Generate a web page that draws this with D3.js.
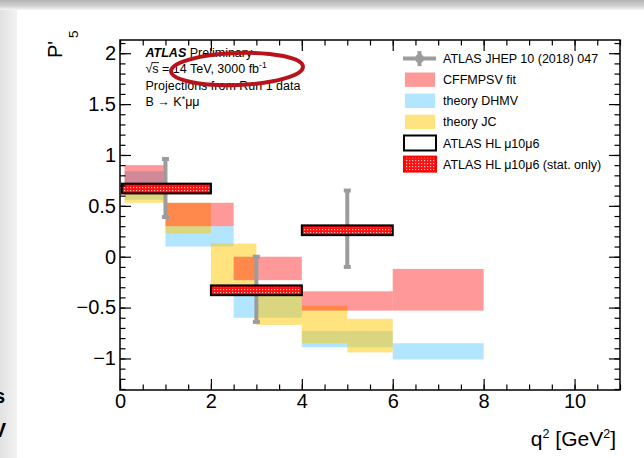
<!DOCTYPE html>
<html>
<head>
<meta charset="utf-8">
<script src="https://cdn.jsdelivr.net/npm/d3@7"></script>
<style>
  body { margin: 0; background: #fff; }
  svg { display: block; font-family: "Liberation Sans", Arial, Helvetica, sans-serif; }
</style>
</head>
<body>
<svg id="chart" width="644" height="458"></svg>
<script>
	//axis ticks
var xTicks = [0, 2, 4, 6, 8, 10];
var yTicks = [-1, -0.5, 0, 0.5, 1, 1.5, 2];

	//CFFMPSV fit: q2 bins and P'5 band
var cffBins = [[0.1, 0.98], [1.0, 2.5], [2.5, 4.0], [4.0, 6.0], [6.0, 8.0]];
var cffLow  = [0.70, 0.30, -0.23, -0.53, -0.53];
var cffHigh = [0.90, 0.53, 0.00, -0.34, -0.12];

	//theory DHMV
var dhmvBins = [[0.1, 0.98], [1.0, 2.5], [2.5, 4.0], [4.0, 6.0], [6.0, 8.0]];
var dhmvLow  = [0.56, 0.10, -0.60, -0.89, -1.01];
var dhmvHigh = [0.84, 0.30, -0.30, -0.73, -0.85];

	//theory JC
var jcBins = [[0.1, 0.98], [1.0, 2.0], [2.0, 3.0], [3.0, 4.0], [4.0, 5.0], [5.0, 6.0]];
var jcLow  = [0.53, 0.23, -0.30, -0.67, -0.85, -0.94];
var jcHigh = [0.66, 0.53, 0.13, -0.32, -0.48, -0.61];

	//ATLAS JHEP 10 (2018) 047 + HL projection (same central values)
var atlasBins  = [[0.04, 2.0], [2.0, 4.0], [4.0, 6.0]];
var atlasQ2    = [1, 3, 5];
var atlasP5    = [0.67, -0.33, 0.26];
var atlasErrUp = [0.30, 0.34, 0.40];
var atlasErrDn = [0.29, 0.32, 0.37];
var hlTotErr   = [0.048, 0.048, 0.048];
var hlStatErr  = [0.038, 0.038, 0.038];

var legendLabels = ["ATLAS JHEP 10 (2018) 047", "CFFMPSV fit", "theory DHMV", "theory JC",
	"ATLAS HL \u03bc10\u03bc6", "ATLAS HL \u03bc10\u03bc6 (stat. only)"];

var pink = "rgba(255,0,0,0.4)", blue = "rgba(0,170,255,0.3)", yellow = "rgba(255,200,0,0.5)", grey = "#9c9c9c";

var svg = d3.select("#chart");
var defs = svg.append("defs");

	//slide edges (screenshot border)
var topFade = defs.append("linearGradient").attr("id", "topfade")
	.attr("x1", 0).attr("x2", 0).attr("y1", 0).attr("y2", 1);
topFade.append("stop").attr("offset", 0).attr("stop-color", "#b4b4b4");
topFade.append("stop").attr("offset", 0.6).attr("stop-color", "#d2d2d2");
topFade.append("stop").attr("offset", 1).attr("stop-color", "#f6f6f6");
var leftFade = defs.append("linearGradient").attr("id", "leftfade");
leftFade.append("stop").attr("offset", 0).attr("stop-color", "#e2e2e2");
leftFade.append("stop").attr("offset", 1).attr("stop-color", "#f2f2f2");

	//dotted fill for the stat. only boxes
var pat = defs.append("pattern").attr("id", "statfill")
	.attr("width", 3).attr("height", 3).attr("patternUnits", "userSpaceOnUse");
pat.append("rect").attr("width", 3).attr("height", 3).attr("fill", "#ff1010");
pat.append("rect").attr("x", 1).attr("y", 1).attr("width", 1.2).attr("height", 1.2).attr("fill", "#ffc8c8");

svg.append("rect").attr("width", 644).attr("height", 458).attr("fill", "#fff");
svg.append("rect").attr("y", 8).attr("width", 17).attr("height", 450).attr("fill", "url(#leftfade)");
svg.append("rect").attr("width", 644).attr("height", 10).attr("fill", "url(#topfade)");
svg.append("text").attr("x", 5).attr("y", 403).attr("text-anchor", "end")
	.attr("font-size", 20).attr("font-weight", "bold").text("s");
svg.append("text").attr("x", 6).attr("y", 437).attr("text-anchor", "end")
	.attr("font-size", 20).attr("font-weight", "bold").text("V");

var x = d3.scaleLinear().domain([0, 11]).range([120, 620]);
var y = d3.scaleLinear().domain([-1.31, 2.13]).range([390, 40]);

	//theory bands, drawn blue -> yellow -> pink
function drawBand(bins, low, high, color) {
	svg.append("g").selectAll("rect")
		.data(bins)
		.enter().append("rect")
		.attr("x", function(d) { return x(d[0]); })
		.attr("width", function(d) { return x(d[1]) - x(d[0]); })
		.attr("y", function(d, i) { return y(high[i]); })
		.attr("height", function(d, i) { return y(low[i]) - y(high[i]); })
		.attr("fill", color);
}
drawBand(dhmvBins, dhmvLow, dhmvHigh, blue);
drawBand(jcBins, jcLow, jcHigh, yellow);
drawBand(cffBins, cffLow, cffHigh, pink);

	//ATLAS 2018 points
var pts = svg.append("g").selectAll("g")
	.data(atlasQ2)
	.enter().append("g");

pts.append("line")
	.attr("x1", function(d, i) { return x(atlasBins[i][0]); })
	.attr("x2", function(d, i) { return x(atlasBins[i][1]); })
	.attr("y1", function(d, i) { return y(atlasP5[i]); })
	.attr("y2", function(d, i) { return y(atlasP5[i]); })
	.attr("stroke", grey).attr("stroke-width", 4);
pts.append("line")
	.attr("x1", function(d) { return x(d); })
	.attr("x2", function(d) { return x(d); })
	.attr("y1", function(d, i) { return y(atlasP5[i] + atlasErrUp[i]); })
	.attr("y2", function(d, i) { return y(atlasP5[i] - atlasErrDn[i]); })
	.attr("stroke", grey).attr("stroke-width", 4);
pts.append("rect")
	.attr("x", function(d) { return x(d) - 3.5; })
	.attr("y", function(d, i) { return y(atlasP5[i] + atlasErrUp[i]) - 1; })
	.attr("width", 7).attr("height", 4).attr("fill", grey);
pts.append("rect")
	.attr("x", function(d) { return x(d) - 3.5; })
	.attr("y", function(d, i) { return y(atlasP5[i] - atlasErrDn[i]) - 3; })
	.attr("width", 7).attr("height", 4).attr("fill", grey);
pts.append("circle")
	.attr("cx", function(d) { return x(d); })
	.attr("cy", function(d, i) { return y(atlasP5[i]); })
	.attr("r", 4.5).attr("fill", grey);

	//HL-LHC projection boxes
var hl = svg.append("g").selectAll("g")
	.data(atlasBins)
	.enter().append("g");

hl.append("rect")
	.attr("x", function(d) { return x(d[0]); })
	.attr("width", function(d) { return x(d[1]) - x(d[0]); })
	.attr("y", function(d, i) { return y(atlasP5[i] + hlStatErr[i]); })
	.attr("height", function(d, i) { return y(atlasP5[i] - hlStatErr[i]) - y(atlasP5[i] + hlStatErr[i]); })
	.attr("fill", "url(#statfill)").attr("stroke", "#ff0000").attr("stroke-width", 1.2);
hl.append("rect")
	.attr("x", function(d) { return x(d[0]); })
	.attr("width", function(d) { return x(d[1]) - x(d[0]); })
	.attr("y", function(d, i) { return y(atlasP5[i] + hlTotErr[i]); })
	.attr("height", function(d, i) { return y(atlasP5[i] - hlTotErr[i]) - y(atlasP5[i] + hlTotErr[i]); })
	.attr("fill", "none").attr("stroke", "#000").attr("stroke-width", 2);

	//axes, ticks on all four sides pointing inwards
var fmt = d3.format("~g");
var xMinor = d3.range(0, 23).map(function(v) { return v / 2; });
var yMinor = d3.range(-13, 22).map(function(v) { return v / 10; });

function addAxis(axis, tx, ty, labels) {
	var g = svg.append("g")
		.attr("transform", "translate(" + tx + "," + ty + ")")
		.call(axis);
	g.select(".domain").remove();
	g.selectAll(".tick line").attr("stroke", "#000").attr("stroke-width", 1.2);
	g.selectAll(".tick text").attr("fill", "#000").attr("font-size", 20)
		.attr("font-family", "Liberation Sans, Arial, sans-serif");
	if (!labels) g.selectAll(".tick text").remove();
	return g;
}

addAxis(d3.axisBottom(x).tickValues(xTicks).tickSize(-11).tickPadding(4).tickFormat(fmt), 0, 390, true);
addAxis(d3.axisBottom(x).tickValues(xMinor).tickSize(-5.5), 0, 390, false);
addAxis(d3.axisTop(x).tickValues(xTicks).tickSize(-11), 0, 40, false);
addAxis(d3.axisTop(x).tickValues(xMinor).tickSize(-5.5), 0, 40, false);
addAxis(d3.axisLeft(y).tickValues(yTicks).tickSize(-11).tickPadding(4).tickFormat(fmt), 120, 0, true);
addAxis(d3.axisLeft(y).tickValues(yMinor).tickSize(-5.5), 120, 0, false);
addAxis(d3.axisRight(y).tickValues(yTicks).tickSize(-11), 620, 0, false);
addAxis(d3.axisRight(y).tickValues(yMinor).tickSize(-5.5), 620, 0, false);

svg.append("rect")
	.attr("x", 120).attr("y", 40).attr("width", 500).attr("height", 350)
	.attr("fill", "none").attr("stroke", "#000").attr("stroke-width", 1.5);

	//axis titles
var xt = svg.append("text").attr("x", 616).attr("y", 446).attr("text-anchor", "end").attr("font-size", 21);
xt.append("tspan").text("q");
xt.append("tspan").attr("font-size", 12.5).attr("dy", -8).text("2");
xt.append("tspan").attr("dy", 8).text(" [GeV");
xt.append("tspan").attr("font-size", 12.5).attr("dy", -8).text("2");
xt.append("tspan").attr("dy", 8).text("]");

svg.append("text").attr("transform", "translate(62,58) rotate(-90)")
	.attr("font-size", 20).text("P'");
svg.append("text").attr("transform", "translate(77.5,38) rotate(-90)")
	.attr("font-size", 13.5).text("5");

	//ATLAS label block
var info = svg.append("g").attr("font-size", 12.5);
var l1 = info.append("text").attr("x", 145.5).attr("y", 56.5);
l1.append("tspan").attr("font-weight", "bold").attr("font-style", "italic").text("ATLAS");
l1.append("tspan").text(" Preliminary");
var l2 = info.append("text").attr("x", 145.5).attr("y", 72.5);
l2.append("tspan").text("\u221as = 14 TeV, 3000 fb");
l2.append("tspan").attr("font-size", 8.5).attr("dy", -5).text("-1");
info.append("line").attr("x1", 151.5).attr("x2", 159).attr("y1", 62.6).attr("y2", 62.6)
	.attr("stroke", "#000").attr("stroke-width", 0.9);
info.append("text").attr("x", 145.5).attr("y", 90).text("Projections from Run 1 data");
var l4 = info.append("text").attr("x", 145.5).attr("y", 105.5);
l4.append("tspan").text("B \u2192 K");
l4.append("tspan").attr("font-size", 9).attr("dy", -4).text("*");
l4.append("tspan").attr("dy", 4).text("\u03bc\u03bc");

	//hand drawn highlight
svg.append("ellipse")
	.attr("transform", "translate(237,69) rotate(-2)")
	.attr("rx", 66).attr("ry", 16)
	.attr("fill", "none").attr("stroke", "#b8121b").attr("stroke-width", 4);

	//legend
var legY = function(i) { return 58.6 + 21.1 * i; };
var leg = svg.append("g").attr("font-size", 12.5);

var lm = leg.append("g").attr("fill", grey).attr("stroke", grey);
lm.append("line").attr("x1", 403).attr("x2", 436).attr("y1", legY(0)).attr("y2", legY(0)).attr("stroke-width", 4);
lm.append("line").attr("x1", 419.5).attr("x2", 419.5).attr("y1", legY(0) - 7.5).attr("y2", legY(0) + 7.5).attr("stroke-width", 4);
lm.append("circle").attr("cx", 419.5).attr("cy", legY(0)).attr("r", 4.5).attr("stroke", "none");

[pink, blue, yellow].forEach(function(c, k) {
	leg.append("rect").attr("x", 405).attr("y", legY(k + 1) - 7.2)
		.attr("width", 30).attr("height", 14.4).attr("fill", c);
});
leg.append("rect").attr("x", 404).attr("y", legY(4) - 7.5).attr("width", 32).attr("height", 15)
	.attr("fill", "#fff").attr("stroke", "#000").attr("stroke-width", 2);
leg.append("rect").attr("x", 404).attr("y", legY(5) - 7.5).attr("width", 32).attr("height", 15)
	.attr("fill", "url(#statfill)").attr("stroke", "#ff0000").attr("stroke-width", 2);

leg.selectAll("text.lab")
	.data(legendLabels)
	.enter().append("text")
	.attr("class", "lab")
	.attr("x", 443)
	.attr("y", function(d, i) { return legY(i) + 4.5; })
	.text(function(d) { return d; });
</script>
</body>
</html>
